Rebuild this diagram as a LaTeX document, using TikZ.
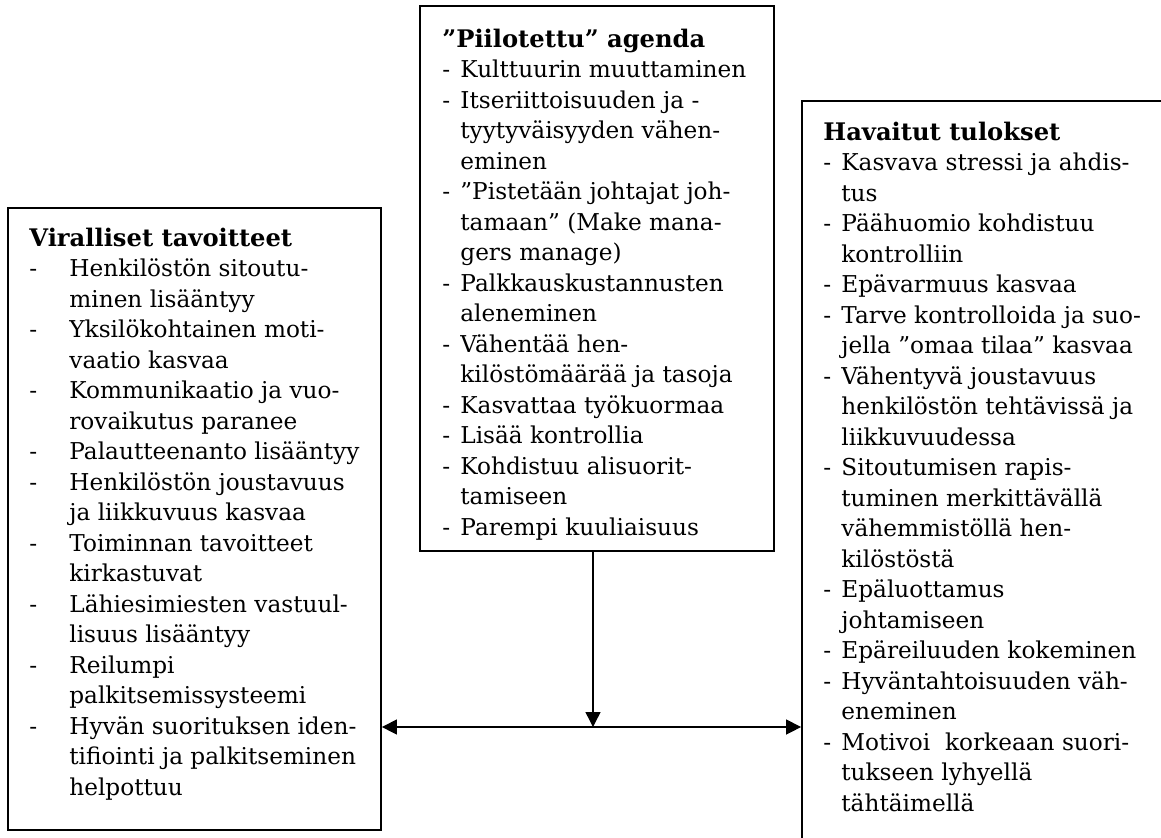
\documentclass[tikz,border=0pt]{standalone}
\usepackage{fontspec}
\setmainfont{DejaVu Serif}
\usetikzlibrary{
  arrows.meta,
  fit,
}
\newlength{\dashindent}
\newcommand{\itemline}[1]{\makebox[\dashindent][l]{-}#1}
\newcommand{\contline}[1]{\hspace*{\dashindent}#1}
\newcommand{\bodyfont}{\fontsize{11.6}{15.25}\selectfont}
\newcommand{\headline}[1]{{\fontsize{12.1}{15.25}\selectfont\bfseries #1}}
\tikzset{
  panel/.style={
    rectangle,
    draw=black,
    line width=0.9pt,
    inner sep=0pt,
  },
  listtext/.style={
    anchor=base west,
    inner sep=0pt,
    font=\bodyfont,
  },
  arrow/.style={
    line width=0.7pt,
    -{Triangle[length=7.5pt,width=7.5pt]},
  },
}

\begin{document}
\begin{tikzpicture}[x=0.5pt, y=-0.5pt]

  \useasboundingbox (0,0) rectangle (1161,837);

  % Panels
  \node (goals) [panel, fit={(8,208)(381,830)}] {};
  \node (agenda) [panel, fit={(420,6)(774,551)}] {};
  \node (results) [panel, fit={(802,101)(1180,860)}] {};

  % Texts
  \node (goalstext) [listtext] at (29,246) {\setlength{\dashindent}{20pt}%
    \begin{tabular}[t]{@{}l@{}}
      \headline{Viralliset tavoitteet}\\
      \itemline{Henkilöstön sitoutu-}\\
      \contline{minen lisääntyy}\\
      \itemline{Yksilökohtainen moti-}\\
      \contline{vaatio kasvaa}\\
      \itemline{Kommunikaatio ja vuo-}\\
      \contline{rovaikutus paranee}\\
      \itemline{Palautteenanto lisääntyy}\\
      \itemline{Henkilöstön joustavuus}\\
      \contline{ja liikkuvuus kasvaa}\\
      \itemline{Toiminnan tavoitteet}\\
      \contline{kirkastuvat}\\
      \itemline{Lähiesimiesten vastuul-}\\
      \contline{lisuus lisääntyy}\\
      \itemline{Reilumpi}\\
      \contline{palkitsemissysteemi}\\
      \itemline{Hyvän suorituksen iden-}\\
      \contline{tifiointi ja palkitseminen}\\
      \contline{helpottuu}
    \end{tabular}};

  \node (agendatext) [listtext] at (442,47) {\setlength{\dashindent}{9pt}%
    \begin{tabular}[t]{@{}l@{}}
      \headline{”Piilotettu” agenda}\\
      \itemline{Kulttuurin muuttaminen}\\
      \itemline{Itseriittoisuuden ja -}\\
      \contline{tyytyväisyyden vähen-}\\
      \contline{eminen}\\
      \itemline{”Pistetään johtajat joh-}\\
      \contline{tamaan” (Make mana-}\\
      \contline{gers manage)}\\
      \itemline{Palkkauskustannusten}\\
      \contline{aleneminen}\\
      \itemline{Vähentää hen-}\\
      \contline{kilöstömäärää ja tasoja}\\
      \itemline{Kasvattaa työkuormaa}\\
      \itemline{Lisää kontrollia}\\
      \itemline{Kohdistuu alisuorit-}\\
      \contline{tamiseen}\\
      \itemline{Parempi kuuliaisuus}
    \end{tabular}};

  \node (resultstext) [listtext] at (823,140) {\setlength{\dashindent}{9pt}%
    \begin{tabular}[t]{@{}l@{}}
      \headline{Havaitut tulokset}\\
      \itemline{Kasvava stressi ja ahdis-}\\
      \contline{tus}\\
      \itemline{Päähuomio kohdistuu}\\
      \contline{kontrolliin}\\
      \itemline{Epävarmuus kasvaa}\\
      \itemline{Tarve kontrolloida ja suo-}\\
      \contline{jella ”omaa tilaa” kasvaa}\\
      \itemline{Vähentyvä joustavuus}\\
      \contline{henkilöstön tehtävissä ja}\\
      \contline{liikkuvuudessa}\\
      \itemline{Sitoutumisen rapis-}\\
      \contline{tuminen merkittävällä}\\
      \contline{vähemmistöllä hen-}\\
      \contline{kilöstöstä}\\
      \itemline{Epäluottamus}\\
      \contline{johtamiseen}\\
      \itemline{Epäreiluuden kokeminen}\\
      \itemline{Hyväntahtoisuuden väh-}\\
      \contline{eneminen}\\
      \itemline{Motivoi~ korkeaan suori-}\\
      \contline{tukseen lyhyellä}\\
      \contline{tähtäimellä}
    \end{tabular}};

  % Arrows
  \coordinate (join) at (593,727);
  \draw [arrow] (agenda.south -| join) -- (join);
  \draw [arrow, {Triangle[length=7.5pt,width=7.5pt]}-{Triangle[length=7.5pt,width=7.5pt]}]
    (goals.east |- join) -- (results.west |- join);

\end{tikzpicture}
\end{document}
